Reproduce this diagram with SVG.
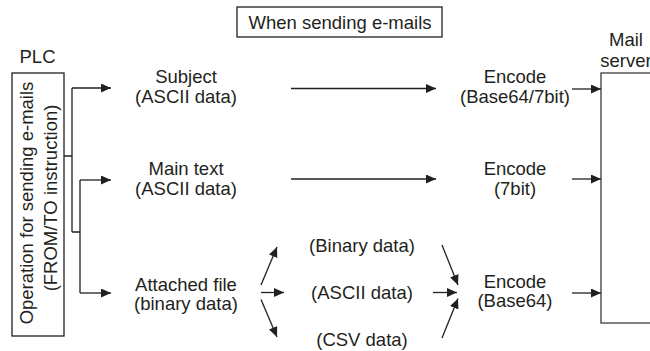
<svg xmlns="http://www.w3.org/2000/svg" width="650" height="351" viewBox="0 0 650 351">
<defs>
<marker id="ah" markerUnits="userSpaceOnUse" markerWidth="11" markerHeight="10" refX="10" refY="4.5" orient="auto">
<path d="M0,0 L10,4.5 L0,9 z" fill="#231f20"/>
</marker>
<style>
text{font-family:"Liberation Sans",Arial,sans-serif;font-size:18.5px;fill:#231f20;text-anchor:middle}
.box{fill:#fff;stroke:#231f20;stroke-width:1.3}
.srv{fill:none;stroke:#555;stroke-width:1.5}
.ln{fill:none;stroke:#231f20;stroke-width:1.3}
.ar{fill:none;stroke:#231f20;stroke-width:1.3;marker-end:url(#ah)}
</style>
</defs>
<rect width="650" height="351" fill="#fff"/>
<g id="title">
<rect class="box" x="237" y="7" width="205" height="30"/>
<text x="340" y="28.5">When sending e-mails</text>
</g>
<g id="plc">
<text x="37.5" y="63">PLC</text>
<rect class="box" x="12" y="73" width="52" height="263"/>
<text transform="translate(33,203) rotate(-90)">Operation for sending e-mails</text>
<text transform="translate(56.5,198) rotate(-90)">(FROM/TO instruction)</text>
</g>
<g id="subject">
<text x="186" y="83">Subject</text>
<text x="186" y="103">(ASCII data)</text>
</g>
<g id="maintext">
<text x="186" y="175">Main text</text>
<text x="186" y="195">(ASCII data)</text>
</g>
<g id="attached">
<text x="186" y="291">Attached file</text>
<text x="186" y="310">(binary data)</text>
</g>
<g id="binary"><text x="362" y="252">(Binary data)</text></g>
<g id="ascii"><text x="362" y="299">(ASCII data)</text></g>
<g id="csv"><text x="362" y="346">(CSV data)</text></g>
<g id="enc1">
<text x="515" y="83">Encode</text>
<text x="515" y="103">(Base64/7bit)</text>
</g>
<g id="enc2">
<text x="515" y="175">Encode</text>
<text x="515" y="195">(7bit)</text>
</g>
<g id="enc3">
<text x="515" y="288">Encode</text>
<text x="515" y="307">(Base64)</text>
</g>
<g id="mailserver">
<text x="626" y="46">Mail</text>
<text x="626" y="66.5">server</text>
<path class="srv" d="M660,73 H601 V323 H660"/>
</g>
<g id="connectors">
<path class="ln" d="M64,156 H72 M72,88 V232 M72,232 H80 M80,180 V293"/>
<path class="ar" d="M72,88 H111"/>
<path class="ar" d="M80,180 H111"/>
<path class="ar" d="M80,293 H111"/>
<path class="ar" d="M291,88.5 H436"/>
<path class="ar" d="M291,179 H436"/>
<path class="ar" d="M261,285 L277,247"/>
<path class="ar" d="M261,292.5 H284"/>
<path class="ar" d="M261,299.5 L277,337"/>
<path class="ar" d="M442,245 L458,285"/>
<path class="ar" d="M433,292.5 H457"/>
<path class="ar" d="M442,338 L458,298.5"/>
<path class="ar" d="M572,89 H601"/>
<path class="ar" d="M572,179 H601"/>
<path class="ar" d="M572,293 H601"/>
</g>
</svg>
